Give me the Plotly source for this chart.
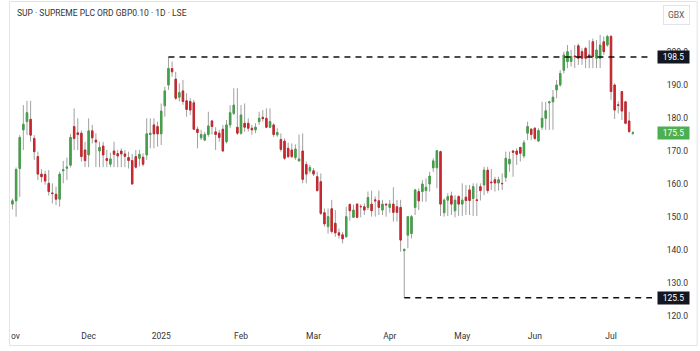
import plotly.graph_objects as go
import pandas as pd

# ---------------- data ----------------
holidays = ["2024-12-25", "2024-12-26", "2025-01-01", "2025-04-18",
            "2025-04-21", "2025-05-05", "2025-05-26"]
dates = [d for d in pd.bdate_range("2024-11-01", "2025-07-09")
         if d.strftime("%Y-%m-%d") not in holidays]

opens = [153.9, 154.9, 164.7, 176.4, 178.9, 179.6, 173.8, 168.3, 163.0, 162.9,
         160.2, 157.3, 156.9, 155.4, 164.0, 164.8, 165.7, 177.4, 175.5, 175.4,
         170.3, 168.8, 176.1, 173.3, 170.0, 171.5, 167.7, 166.0, 170.0, 169.2,
         170.0, 169.1, 168.0, 167.1, 168.3, 167.8, 168.1, 168.8, 175.0, 177.9,
         177.4, 175.2, 183.7, 190.0, 195.0, 191.8, 186.3, 188.2, 185.2, 185.0,
         184.6, 176.6, 174.0, 173.3, 175.0, 179.1, 175.8, 175.4, 176.6, 172.8,
         177.9, 181.4, 177.2, 175.4, 178.4, 178.4, 176.9, 176.4, 178.9, 180.2,
         179.9, 177.2, 177.9, 174.9, 173.5, 173.0, 170.8, 170.3, 168.0, 167.0,
         170.0, 165.9, 164.0, 164.0, 162.2, 160.7, 151.3, 147.1, 152.5, 148.1,
         145.2, 144.6, 144.0, 153.8, 149.9, 153.9, 153.2, 153.1, 152.9, 153.9,
         155.2, 154.9, 152.1, 153.9, 152.9, 153.9, 153.1, 152.9, 139.8, 144.5,
         145.0, 152.9, 157.7, 157.7, 158.0, 160.0, 164.9, 164.9, 169.8, 151.3,
         155.1, 156.4, 151.9, 156.2, 153.9, 156.0, 158.2, 155.6, 155.2, 159.2,
         159.7, 164.2, 160.6, 161.3, 160.3, 160.2, 162.0, 166.1, 170.0, 170.0,
         171.1, 168.5, 175.4, 176.6, 176.9, 173.0, 177.2, 179.9, 184.6, 184.9,
         188.5, 190.0, 194.5, 197.1, 197.1, 198.8, 201.9, 200.1, 201.1, 199.1,
         203.1, 198.1, 198.1, 203.1, 202.1, 204.7, 190.0, 184.0, 188.0, 184.9,
         179.1, 175.3]
highs = [155.6, 165.0, 174.8, 183.9, 185.2, 185.2, 174.8, 169.8, 164.5, 164.0,
         164.2, 160.2, 159.2, 163.7, 167.0, 168.0, 175.1, 182.9, 179.9, 176.2,
         172.8, 179.9, 177.9, 175.4, 172.8, 172.8, 170.3, 169.5, 172.8, 170.3,
         170.8, 170.3, 169.8, 169.1, 170.3, 170.3, 169.3, 179.9, 179.9, 179.9,
         178.9, 184.4, 189.5, 198.5, 197.1, 194.0, 190.5, 191.5, 187.5, 186.0,
         185.5, 177.4, 176.4, 175.8, 181.9, 179.4, 177.2, 176.4, 177.9, 179.4,
         183.9, 189.0, 189.0, 183.9, 184.4, 179.9, 177.9, 178.4, 181.9, 182.4,
         182.9, 182.9, 178.4, 176.9, 175.3, 173.8, 172.5, 172.3, 172.0, 175.0,
         175.3, 166.8, 165.8, 164.8, 163.7, 163.2, 152.6, 152.6, 155.2, 152.1,
         146.5, 145.5, 153.1, 154.1, 153.8, 154.2, 153.9, 154.1, 157.7, 158.0,
         156.2, 158.0, 155.2, 154.1, 155.2, 159.0, 155.2, 155.2, 140.4, 150.3,
         150.6, 158.5, 158.7, 161.2, 161.7, 163.7, 167.8, 170.3, 170.1, 155.6,
         157.2, 157.7, 156.6, 156.6, 160.2, 159.7, 159.7, 160.2, 160.2, 160.2,
         165.2, 165.2, 164.5, 162.2, 162.2, 163.2, 169.8, 169.8, 170.3, 170.8,
         171.1, 173.3, 178.9, 176.9, 177.2, 176.9, 184.9, 184.9, 185.0, 188.5,
         191.5, 194.5, 200.1, 202.1, 200.6, 202.1, 202.6, 201.1, 201.6, 203.6,
         204.1, 203.6, 205.2, 204.7, 205.2, 205.2, 190.5, 185.0, 188.2, 185.1,
         181.9, 176.0]
lows = [152.3, 150.1, 156.1, 170.3, 174.8, 172.8, 167.3, 161.2, 160.5, 159.8,
        156.5, 154.1, 153.6, 153.1, 160.2, 161.2, 165.0, 170.3, 170.3, 166.8,
        165.1, 165.1, 172.3, 165.1, 165.1, 165.1, 165.1, 165.1, 165.1, 165.1,
        165.1, 165.1, 164.7, 159.8, 164.7, 165.3, 165.3, 167.3, 170.8, 170.8,
        171.3, 171.8, 180.4, 188.5, 192.5, 185.5, 185.0, 184.0, 180.4, 180.9,
        176.4, 170.8, 173.3, 173.1, 174.3, 175.0, 170.3, 172.8, 169.8, 172.3,
        176.9, 180.9, 174.9, 174.9, 175.8, 175.9, 174.9, 175.4, 177.9, 178.9,
        176.9, 176.9, 174.3, 174.3, 169.8, 167.3, 167.8, 167.8, 167.3, 166.8,
        160.2, 160.2, 163.2, 162.4, 157.7, 150.6, 147.1, 145.0, 145.0, 144.0,
        143.5, 142.0, 143.8, 148.9, 149.9, 149.6, 149.9, 150.6, 152.1, 150.1,
        150.1, 150.6, 150.6, 150.1, 151.3, 148.6, 148.6, 139.5, 125.5, 140.5,
        143.5, 150.6, 152.1, 154.6, 154.6, 157.7, 163.7, 158.7, 150.3, 150.1,
        150.3, 150.6, 149.9, 150.3, 150.3, 150.6, 150.6, 150.3, 150.3, 155.0,
        156.6, 157.2, 158.2, 157.7, 158.0, 158.2, 160.7, 163.7, 162.2, 165.8,
        166.8, 167.8, 173.3, 173.3, 173.3, 172.8, 176.4, 176.4, 176.4, 176.4,
        186.0, 189.5, 193.5, 195.1, 195.6, 195.1, 196.1, 196.1, 195.1, 195.1,
        195.1, 195.1, 195.1, 199.1, 201.6, 185.5, 179.7, 181.4, 179.4, 178.1,
        175.4, 174.9]
closes = [154.9, 164.4, 174.1, 178.1, 181.6, 174.8, 169.8, 163.0, 162.2, 160.9,
          157.7, 157.1, 155.4, 163.0, 164.3, 165.1, 174.1, 173.8, 175.0, 168.3,
          167.1, 176.1, 174.0, 172.7, 171.1, 168.8, 167.1, 167.6, 169.0, 168.5,
          169.1, 168.4, 167.1, 160.0, 165.1, 169.0, 166.0, 175.2, 175.4, 175.2,
          175.2, 182.1, 188.2, 195.0, 194.0, 186.0, 187.7, 185.0, 182.6, 182.4,
          176.6, 175.6, 175.0, 175.0, 177.6, 177.4, 175.0, 174.1, 170.0, 177.9,
          181.6, 183.9, 175.4, 180.9, 177.2, 176.9, 176.4, 177.2, 179.9, 179.8,
          177.2, 178.9, 175.0, 175.6, 170.5, 167.8, 168.3, 168.3, 170.6, 167.6,
          161.4, 163.0, 165.0, 163.0, 158.0, 151.1, 147.9, 150.1, 145.6, 145.2,
          144.5, 143.4, 150.1, 151.9, 152.1, 149.9, 153.1, 152.1, 155.9, 151.9,
          154.9, 152.9, 153.9, 153.7, 153.9, 151.4, 151.4, 143.0, 140.2, 150.1,
          150.1, 158.2, 154.9, 160.0, 159.0, 162.4, 167.0, 170.1, 153.9, 155.1,
          156.2, 153.9, 155.1, 153.9, 155.1, 155.0, 155.0, 159.2, 155.0, 158.0,
          164.2, 158.0, 160.4, 160.3, 161.3, 160.1, 167.8, 167.5, 169.6, 169.0,
          169.3, 172.5, 177.4, 175.0, 173.8, 176.2, 179.9, 182.2, 184.9, 186.3,
          190.0, 193.5, 199.1, 200.1, 198.6, 198.6, 198.1, 198.1, 198.1, 198.6,
          198.6, 200.6, 202.1, 200.1, 204.7, 188.0, 182.4, 183.8, 182.1, 178.4,
          175.9, 175.5]

month_labels = ["Nov", "Dec", "2025", "Feb", "Mar", "Apr", "May", "Jun", "Jul"]
price_ticks = [120, 130, 140, 150, 160, 170, 180, 190, 200]
resistance_level = 198.5
support_level = 125.5
last_price = closes[-1]

title_text = "SUP · SUPREME PLC ORD GBP0.10 · 1D · LSE"
currency_text = "GBX"

# ---------------- derived ----------------
xs = list(range(len(dates)))
month_pos = []
seen = set()
for i, d in enumerate(dates):
    key = (d.year, d.month)
    if key not in seen:
        seen.add(key)
        month_pos.append(i)

hi_idx = highs.index(max(highs[:60]))   # January peak start of 198.5 line
lo_idx = lows.index(min(lows))          # April low start of 125.5 line

GREEN = "#43a048"
RED = "#c8262e"
WICK = "#a0a0a0"
TEXT = "#333333"
FONT = "Roboto"

W, H = 700, 351
ML, MR, MT, MB = 5, 48, 5, 29
PW, PH = W - ML - MR, H - MT - MB


def px(x):
    return (x - ML) / PW


def py(y):
    return (H - MB - y) / PH


fig = go.Figure()

# wicks (gray) underneath
fig.add_trace(go.Candlestick(
    x=xs, open=opens, high=highs, low=lows, close=closes,
    increasing=dict(line=dict(color=WICK, width=1), fillcolor=WICK),
    decreasing=dict(line=dict(color=WICK, width=1), fillcolor=WICK),
    whiskerwidth=0, hoverinfo="skip", showlegend=False,
))
# coloured bodies on top
body_hi = [max(o, c) for o, c in zip(opens, closes)]
body_lo = [min(o, c) for o, c in zip(opens, closes)]
fig.add_trace(go.Candlestick(
    x=xs, open=opens, high=body_hi, low=body_lo, close=closes,
    increasing=dict(line=dict(color=GREEN, width=1), fillcolor=GREEN),
    decreasing=dict(line=dict(color=RED, width=1), fillcolor=RED),
    whiskerwidth=0, showlegend=False,
))

x_max = 176.3
shapes = [
    dict(type="line", xref="x", yref="y", x0=hi_idx, x1=x_max,
         y0=resistance_level, y1=resistance_level,
         line=dict(color="#111111", width=1.5, dash="6px,5px")),
    dict(type="line", xref="x", yref="y", x0=lo_idx, x1=x_max,
         y0=support_level, y1=support_level,
         line=dict(color="#111111", width=1.5, dash="6px,5px")),
    # the pane edge hides the first letter of the first month label
    dict(type="rect", xref="paper", yref="paper", layer="above",
         x0=px(-5), x1=px(6.2), y0=py(351), y1=py(323),
         line=dict(width=0), fillcolor="white"),
    # outer frame
    dict(type="rect", xref="paper", yref="paper", layer="above",
         x0=px(4.5), x1=px(697.5), y0=py(345.5), y1=py(1.5),
         line=dict(color="#e0e3eb", width=1), fillcolor="rgba(0,0,0,0)"),
]

annotations = [
    dict(text=title_text, xref="paper", yref="paper", x=px(10), y=py(13),
         xanchor="left", yanchor="middle", showarrow=False,
         font=dict(family=FONT, size=8.5, color=TEXT)),
    dict(text=currency_text, xref="paper", yref="paper", x=px(677), y=py(15),
         xanchor="center", yanchor="middle", showarrow=False,
         font=dict(family=FONT, size=8.5, color="#555555"),
         bordercolor="#e0e3eb", borderwidth=1, borderpad=4, bgcolor="white"),
]
for val, bg in [(resistance_level, "#131722"), (support_level, "#131722"),
                (last_price, "#4caf50")]:
    annotations.append(dict(
        text=f"{val:.1f}", xref="paper", yref="y", x=px(657.5), y=val,
        xanchor="left", yanchor="middle", showarrow=False, width=29, height=10,
        align="center", bgcolor=bg, borderpad=1,
        font=dict(family=FONT, size=8.5, color="white")))

fig.update_layout(
    width=W, height=H, margin=dict(l=ML, r=MR, t=MT, b=MB),
    paper_bgcolor="white", plot_bgcolor="white",
    boxgap=0.45, showlegend=False,
    shapes=shapes, annotations=annotations,
    font=dict(family=FONT, size=8.5, color=TEXT),
    xaxis=dict(range=[-0.68, x_max], rangeslider=dict(visible=False),
               showgrid=False, zeroline=False, showline=False,
               tickmode="array", tickvals=month_pos, ticktext=month_labels,
               ticks="outside", ticklen=6, tickcolor="rgba(0,0,0,0)",
               tickfont=dict(family=FONT, size=8.5, color=TEXT)),
    yaxis=dict(side="right", range=[118.18, 214.24],
               showgrid=False, zeroline=False, showline=False,
               tickmode="array", tickvals=price_ticks,
               ticktext=[f"{v:.1f}" for v in price_ticks],
               ticks="outside", ticklen=12, tickcolor="rgba(0,0,0,0)",
               tickfont=dict(family=FONT, size=8.5, color=TEXT)),
)

fig.write_html("out.html")
